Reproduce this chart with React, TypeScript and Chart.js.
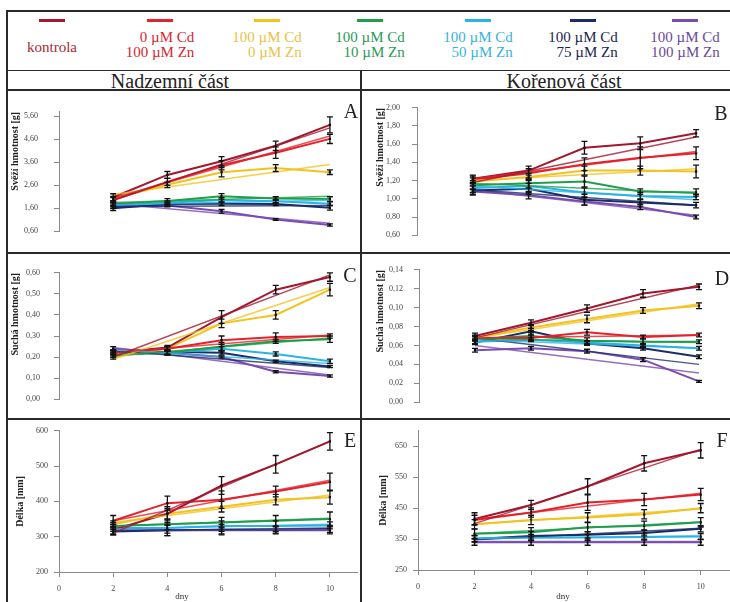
import React, { useEffect, useRef } from "react";
import { Chart, registerables } from "chart.js";
Chart.register(...registerables);

const DAYS = [2, 4, 6, 8, 10];
const X_TICKS = [0, 2, 4, 6, 8, 10];

const SERIES_LABELS = [
  ["kontrola"],
  ["0 µM Cd", "100 µM Zn"],
  ["100 µM Cd", "0 µM Zn"],
  ["100 µM Cd", "10 µM Zn"],
  ["100 µM Cd", "50 µM Zn"],
  ["100 µM Cd", "75 µM Zn"],
  ["100 µM Cd", "100 µM Zn"],
];
const SERIES_COLORS = ["#a3182e", "#e4222c", "#f2c21e", "#1f9e4c", "#2ab4e4", "#1b2c6a", "#7a4cb0"];
const LEGEND_TEXT_COLORS = ["#a82a36", "#d8262e", "#e9c24a", "#2a9a55", "#38b2e0", "#1a2550", "#6a4a9a"];

// Panel A – Svěží hmotnost, nadzemní část [g]
const A_VALUES = [
  [2.08, 3.05, 3.65, 4.32, 5.23],
  [1.96, 2.75, 3.47, 4.02, 4.62],
  [2.02, 2.62, 3.17, 3.35, 3.17],
  [1.78, 1.92, 2.12, 2.02, 2.0],
  [1.72, 1.84, 1.96, 1.9, 1.8],
  [1.6, 1.78, 1.8, 1.78, 1.62],
  [1.66, 1.72, 1.47, 1.11, 0.87],
];
const A_ERRORS = [
  [0.15, 0.15, 0.2, 0.2, 0.35],
  [0.1, 0.15, 0.2, 0.25, 0.2],
  [0.1, 0.12, 0.2, 0.15, 0.1],
  [0.1, 0.1, 0.12, 0.08, 0.1],
  [0.1, 0.08, 0.1, 0.08, 0.08],
  [0.1, 0.08, 0.08, 0.06, 0.1],
  [0.08, 0.06, 0.08, 0.04, 0.05],
];
const A_TRENDS = [
  [1.95, 5.1], [2.05, 4.75], [2.2, 3.5], [1.85, 2.12], [1.75, 1.95], [1.68, 1.72], [1.8, 0.95],
];
const A_TICKS = [0.6, 1.6, 2.6, 3.6, 4.6, 5.6];

// Panel B – Svěží hmotnost, kořenová část [g]
const B_VALUES = [
  [1.22, 1.31, 1.56, 1.61, 1.72],
  [1.21, 1.28, 1.38, 1.45, 1.5],
  [1.19, 1.24, 1.31, 1.31, 1.3],
  [1.15, 1.17, 1.19, 1.08, 1.07],
  [1.12, 1.14, 1.07, 1.03, 1.02],
  [1.09, 1.11, 0.99, 0.96, 0.93],
  [1.08, 1.04, 0.97, 0.91, 0.8],
];
const B_ERRORS = [
  [0.04, 0.05, 0.07, 0.07, 0.04],
  [0.04, 0.05, 0.07, 0.12, 0.07],
  [0.04, 0.04, 0.05, 0.05, 0.07],
  [0.05, 0.05, 0.06, 0.03, 0.04],
  [0.05, 0.07, 0.05, 0.04, 0.03],
  [0.05, 0.06, 0.06, 0.04, 0.03],
  [0.03, 0.04, 0.04, 0.03, 0.02],
];
const B_TRENDS = [
  [1.18, 1.68], [1.22, 1.52], [1.2, 1.33], [1.17, 1.06], [1.14, 0.99], [1.1, 0.93], [1.1, 0.82],
];
const B_TICKS = [0.6, 0.8, 1.0, 1.2, 1.4, 1.6, 1.8, 2.0];

// Panel C – Suchá hmotnost, nadzemní část [g]
const C_VALUES = [
  [0.22, 0.245, 0.39, 0.52, 0.58],
  [0.22, 0.24, 0.28, 0.295, 0.3],
  [0.2, 0.24, 0.36, 0.4, 0.52],
  [0.21, 0.22, 0.25, 0.275, 0.285],
  [0.225, 0.22, 0.24, 0.215, 0.18],
  [0.21, 0.225, 0.22, 0.18, 0.155],
  [0.24, 0.22, 0.2, 0.13, 0.11],
];
const C_ERRORS = [
  [0.01, 0.01, 0.03, 0.02, 0.02],
  [0.01, 0.01, 0.02, 0.02, 0.01],
  [0.01, 0.01, 0.02, 0.02, 0.03],
  [0.01, 0.01, 0.02, 0.01, 0.015],
  [0.01, 0.01, 0.01, 0.01, 0.01],
  [0.01, 0.01, 0.01, 0.005, 0.005],
  [0.01, 0.01, 0.005, 0.005, 0.005],
];
const C_TRENDS = [
  [0.2, 0.59], [0.22, 0.305], [0.19, 0.53], [0.205, 0.29], [0.235, 0.17], [0.23, 0.15], [0.245, 0.115],
];
const C_TICKS = [0, 0.1, 0.2, 0.3, 0.4, 0.5, 0.6];

// Panel D – Suchá hmotnost, kořenová část [g]
const D_VALUES = [
  [0.07, 0.084, 0.099, 0.115, 0.122],
  [0.068, 0.068, 0.074, 0.069, 0.071],
  [0.068, 0.079, 0.088, 0.097, 0.102],
  [0.067, 0.07, 0.065, 0.064, 0.064],
  [0.064, 0.066, 0.063, 0.06, 0.057],
  [0.063, 0.075, 0.062, 0.057, 0.048],
  [0.055, 0.057, 0.054, 0.045, 0.022],
];
const D_ERRORS = [
  [0.003, 0.003, 0.004, 0.004, 0.003],
  [0.003, 0.003, 0.003, 0.002, 0.002],
  [0.002, 0.003, 0.004, 0.003, 0.003],
  [0.002, 0.004, 0.003, 0.003, 0.002],
  [0.002, 0.002, 0.002, 0.002, 0.002],
  [0.002, 0.003, 0.002, 0.002, 0.002],
  [0.002, 0.002, 0.002, 0.002, 0.001],
];
const D_TRENDS = [
  [0.068, 0.124], [0.068, 0.071], [0.068, 0.104], [0.067, 0.063], [0.066, 0.057], [0.068, 0.04], [0.06, 0.031],
];
const D_TICKS = [0, 0.02, 0.04, 0.06, 0.08, 0.1, 0.12, 0.14];

// Panel E – Délka, nadzemní část [mm]
const E_VALUES = [
  [320, 365, 445, 505, 570],
  [345, 395, 405, 428, 455],
  [335, 365, 385, 405, 412],
  [330, 335, 340, 345, 350],
  [325, 325, 330, 330, 332],
  [315, 318, 320, 320, 322],
  [318, 318, 318, 318, 318],
];
const E_ERRORS = [
  [15, 20, 25, 25, 25],
  [15, 20, 25, 15, 25],
  [10, 15, 15, 15, 20],
  [10, 15, 15, 15, 20],
  [10, 15, 15, 15, 10],
  [10, 15, 15, 10, 10],
  [10, 15, 10, 10, 10],
];
const E_TRENDS = [
  [310, 570], [345, 460], [340, 418], [330, 352], [322, 335], [316, 325], [318, 320],
];
const E_TICKS = [200, 300, 400, 500, 600];

// Panel F – Délka, kořenová část [mm]
const F_VALUES = [
  [415, 460, 520, 595, 637],
  [412, 436, 468, 478, 494],
  [398, 412, 420, 430, 450],
  [367, 372, 388, 393, 404],
  [352, 355, 355, 357, 358],
  [350, 360, 364, 370, 383],
  [340, 340, 340, 340, 340],
];
const F_ERRORS = [
  [20, 15, 25, 25, 25],
  [15, 15, 25, 20, 20],
  [15, 15, 15, 15, 15],
  [15, 15, 15, 15, 15],
  [10, 10, 10, 10, 10],
  [10, 15, 10, 10, 10],
  [10, 10, 10, 10, 10],
];
const F_TRENDS = [
  [400, 640], [415, 498], [398, 448], [368, 405], [352, 360], [348, 385], [342, 342],
];
const F_TICKS = [250, 350, 450, 550, 650];

const SERIF = "'Liberation Serif', 'DejaVu Serif', serif";

type PanelCfg = {
  key: string;
  letter: string;
  letterX: number;
  letterBase: number;
  left: number;
  top: number;
  width: number;
  height: number;
  values: number[][];
  errors: number[][];
  trends: number[][];
  yMin: number;
  yMax: number;
  yTicks: number[];
  decimals: number;
  yTitle: string;
  titleAlign: "end" | "center";
  titlePad: number;
  axisW: number;
  padTop: number;
  padRight: number;
  padBottom: number;
  tickPad: number;
  showX: boolean;
  xAxisH: number;
  dnyX?: number;
};

const PANELS: PanelCfg[] = [
  {
    key: "A", letter: "A", letterX: 351, letterBase: 118,
    left: 8, top: 91, width: 352, height: 161,
    values: A_VALUES, errors: A_ERRORS, trends: A_TRENDS,
    yMin: 0.6, yMax: 5.8, yTicks: A_TICKS, decimals: 2,
    yTitle: "Svěží hmotnost [g]", titleAlign: "end", titlePad: 1,
    axisW: 51, padTop: 11.8, padRight: 3, padBottom: 6.3, tickPad: 16, showX: false, xAxisH: 0,
  },
  {
    key: "B", letter: "B", letterX: 721, letterBase: 120,
    left: 362, top: 91, width: 368, height: 161,
    values: B_VALUES, errors: B_ERRORS, trends: B_TRENDS,
    yMin: 0.6, yMax: 2.0, yTicks: B_TICKS, decimals: 2,
    yTitle: "Svěží hmotnost [g]", titleAlign: "end", titlePad: 12,
    axisW: 55, padTop: 9, padRight: 6, padBottom: 3.7, tickPad: 12, showX: false, xAxisH: 0,
  },
  {
    key: "C", letter: "C", letterX: 350, letterBase: 282,
    left: 8, top: 254, width: 352, height: 164,
    values: C_VALUES, errors: C_ERRORS, trends: C_TRENDS,
    yMin: 0, yMax: 0.6, yTicks: C_TICKS, decimals: 2,
    yTitle: "Suchá hmotnost [g]", titleAlign: "end", titlePad: 1,
    axisW: 51, padTop: 10, padRight: 3, padBottom: 8.7, tickPad: 14, showX: false, xAxisH: 0,
  },
  {
    key: "D", letter: "D", letterX: 722, letterBase: 285,
    left: 362, top: 254, width: 368, height: 164,
    values: D_VALUES, errors: D_ERRORS, trends: D_TRENDS,
    yMin: 0, yMax: 0.14, yTicks: D_TICKS, decimals: 2,
    yTitle: "Suchá hmotnost [g]", titleAlign: "end", titlePad: 12,
    axisW: 57, padTop: 12.7, padRight: 3, padBottom: 3, tickPad: 11, showX: false, xAxisH: 0,
  },
  {
    key: "E", letter: "E", letterX: 350, letterBase: 447,
    left: 8, top: 420, width: 352, height: 182,
    values: E_VALUES, errors: E_ERRORS, trends: E_TRENDS,
    yMin: 200, yMax: 600, yTicks: E_TICKS, decimals: 0,
    yTitle: "Délka [mm]", titleAlign: "center", titlePad: 6,
    axisW: 51, padTop: 9, padRight: 3, padBottom: 0, tickPad: 6, showX: true, xAxisH: 30, dnyX: 182,
  },
  {
    key: "F", letter: "F", letterX: 722, letterBase: 447,
    left: 362, top: 420, width: 368, height: 182,
    values: F_VALUES, errors: F_ERRORS, trends: F_TRENDS,
    yMin: 250, yMax: 700, yTicks: F_TICKS, decimals: 0,
    yTitle: "Délka [mm]", titleAlign: "center", titlePad: 15,
    axisW: 56, padTop: 8.6, padRight: 1, padBottom: 0, tickPad: 6, showX: true, xAxisH: 32, dnyX: 563,
  },
];

const errorBarPlugin = {
  id: "errorBars",
  afterDatasetsDraw(chart: any) {
    const ctx = chart.ctx;
    const xs = chart.scales.x;
    const ys = chart.scales.y;
    ctx.save();
    ctx.strokeStyle = "#111";
    ctx.lineWidth = 1.3;
    chart.data.datasets.forEach((ds: any) => {
      if (!ds.errors) return;
      ds.data.forEach((p: any, i: number) => {
        const e = ds.errors[i];
        if (!e) return;
        const px = xs.getPixelForValue(p.x);
        const y1 = ys.getPixelForValue(p.y - e);
        const y2 = ys.getPixelForValue(p.y + e);
        ctx.beginPath();
        ctx.moveTo(px, y1);
        ctx.lineTo(px, y2);
        ctx.moveTo(px - 3, y1);
        ctx.lineTo(px + 3, y1);
        ctx.moveTo(px - 3, y2);
        ctx.lineTo(px + 3, y2);
        ctx.stroke();
      });
    });
    ctx.restore();
  },
};

function Panel({ p }: { p: PanelCfg }) {
  const ref = useRef<HTMLCanvasElement>(null);
  useEffect(() => {
    if (!ref.current) return;
    const datasets: any[] = [];
    p.trends.forEach((t, i) => {
      datasets.push({
        data: [
          { x: DAYS[0], y: t[0] },
          { x: DAYS[DAYS.length - 1], y: t[1] },
        ],
        borderColor: SERIES_COLORS[i] + "cc",
        borderWidth: 1.5,
        pointRadius: 0,
        fill: false,
      });
    });
    p.values.forEach((vals, i) => {
      datasets.push({
        data: vals.map((v, j) => ({ x: DAYS[j], y: v })),
        errors: p.errors[i],
        borderColor: SERIES_COLORS[i],
        borderWidth: 2,
        pointRadius: 1.6,
        pointStyle: "rect",
        pointBackgroundColor: "#111",
        pointBorderColor: "#111",
        pointBorderWidth: 0,
        fill: false,
      });
    });
    const gridCfg = { drawOnChartArea: false, drawTicks: true, tickLength: 5, color: "#8a8a8a" };
    const chart = new Chart(ref.current, {
      type: "line",
      data: { datasets },
      plugins: [errorBarPlugin],
      options: {
        animation: false,
        responsive: false,
        maintainAspectRatio: false,
        layout: {
          autoPadding: false,
          padding: { left: 0, top: p.padTop, right: p.padRight, bottom: p.showX ? 0 : p.padBottom },
        },
        plugins: { legend: { display: false }, tooltip: { enabled: false } },
        scales: {
          x: {
            type: "linear",
            min: 0,
            max: 11,
            display: p.showX,
            afterBuildTicks: (s: any) => {
              s.ticks = X_TICKS.map((v) => ({ value: v }));
            },
            afterFit: (s: any) => {
              s.height = p.xAxisH;
            },
            grid: gridCfg,
            border: { display: true, color: "#8a8a8a", width: 1 },
            ticks: {
              font: { family: SERIF, size: 8 },
              color: "#444",
              padding: 7,
              maxRotation: 0,
              autoSkip: false,
              callback: (v: any) => String(v),
            },
          },
          y: {
            type: "linear",
            min: p.yMin,
            max: p.yMax,
            afterBuildTicks: (s: any) => {
              s.ticks = p.yTicks.map((v) => ({ value: v }));
            },
            afterFit: (s: any) => {
              s.width = p.axisW;
            },
            grid: gridCfg,
            border: { display: true, color: "#8a8a8a", width: 1 },
            ticks: {
              font: { family: SERIF, size: 8 },
              color: "#444",
              padding: p.tickPad,
              autoSkip: false,
              callback: (v: any) => Number(v).toFixed(p.decimals).replace(".", ","),
            },
            title: {
              display: true,
              text: p.yTitle,
              align: p.titleAlign,
              padding: { top: p.titlePad, bottom: 0 },
              font: { family: SERIF, size: 10, weight: "bold" },
              color: "#222",
            },
          },
        },
      } as any,
    });
    return () => chart.destroy();
  }, [p]);
  return (
    <>
      <canvas
        ref={ref}
        width={p.width}
        height={p.height}
        style={{ position: "absolute", left: p.left, top: p.top, width: p.width, height: p.height }}
      />
      <div
        style={{
          position: "absolute",
          left: p.letterX - 15,
          width: 30,
          top: p.letterBase - 16.8,
          textAlign: "center",
          font: `20px ${SERIF}`,
          lineHeight: "20px",
          color: "#222",
        }}
      >
        {p.letter}
      </div>
      {p.dnyX !== undefined && (
        <div
          style={{
            position: "absolute",
            left: p.dnyX - 20,
            width: 40,
            top: 591,
            textAlign: "center",
            font: `9px ${SERIF}`,
            lineHeight: "10px",
            color: "#333",
          }}
        >
          dny
        </div>
      )}
    </>
  );
}

const LEGEND_CENTERS = [52, 160, 267, 370, 478, 583, 685];

function Line({ x, y, w, h }: { x: number; y: number; w: number; h: number }) {
  return <div style={{ position: "absolute", left: x, top: y, width: w, height: h, background: "#2a2a2a" }} />;
}

export default function App() {
  return (
    <div
      style={{
        position: "absolute",
        left: 0,
        top: 0,
        width: 730,
        height: 602,
        background: "#fff",
        overflow: "hidden",
      }}
    >
      {/* table frame */}
      <Line x={6} y={10} w={724} h={2} />
      <Line x={6} y={69.5} w={724} h={1.6} />
      <Line x={6} y={89} w={724} h={2} />
      <Line x={6} y={252} w={724} h={2} />
      <Line x={6} y={418} w={724} h={2} />
      <Line x={6} y={10} w={2} h={592} />
      <Line x={360} y={70} w={2} h={532} />

      {/* legend */}
      {SERIES_LABELS.map((lines, i) => (
        <React.Fragment key={i}>
          <div
            style={{
              position: "absolute",
              left: LEGEND_CENTERS[i] - 13,
              top: 19,
              width: 26,
              height: 3,
              background: SERIES_COLORS[i],
            }}
          />
          <div
            style={{
              position: "absolute",
              left: LEGEND_CENTERS[i] - 60,
              width: 120,
              top: lines.length === 1 ? 37.5 : 29.5,
              textAlign: "center",
            }}
          >
            <div
              style={{
                display: "inline-block",
                textAlign: "right",
                font: `15px ${SERIF}`,
                lineHeight: "15px",
                color: LEGEND_TEXT_COLORS[i],
                whiteSpace: "nowrap",
              }}
            >
              {lines.map((l, j) => (
                <div key={j}>{l}</div>
              ))}
            </div>
          </div>
        </React.Fragment>
      ))}

      {/* column headers */}
      <div
        style={{
          position: "absolute",
          left: 70,
          width: 200,
          top: 71.2,
          textAlign: "center",
          font: `20px ${SERIF}`,
          lineHeight: "20px",
          color: "#222",
        }}
      >
        Nadzemní část
      </div>
      <div
        style={{
          position: "absolute",
          left: 464,
          width: 200,
          top: 71.2,
          textAlign: "center",
          font: `20px ${SERIF}`,
          lineHeight: "20px",
          color: "#222",
        }}
      >
        Kořenová část
      </div>

      {PANELS.map((p) => (
        <Panel key={p.key} p={p} />
      ))}
    </div>
  );
}
